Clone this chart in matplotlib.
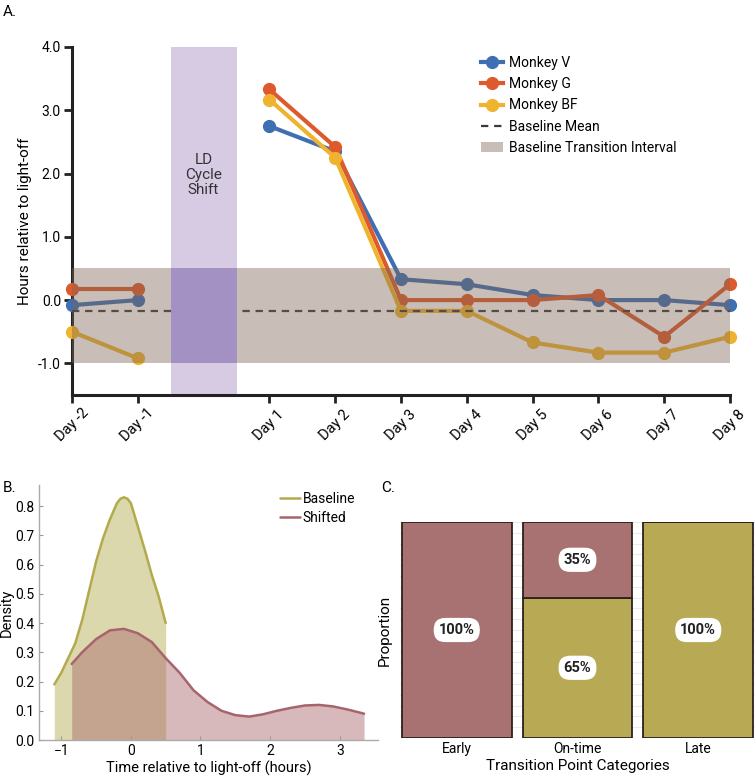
import matplotlib
matplotlib.use("Agg")
import matplotlib.pyplot as plt
import numpy as np

plt.rcParams['font.family'] = ['Roboto', 'DejaVu Sans']

# ---------------- Panel A data ----------------
day_labels = ["Day -2", "Day -1", "Day 1", "Day 2", "Day 3", "Day 4", "Day 5", "Day 6", "Day 7", "Day 8"]
day_pos = [0, 1, 3, 4, 5, 6, 7, 8, 9, 10]
pre_pos = [0, 1]
post_pos = [3, 4, 5, 6, 7, 8, 9, 10]

monkey_v_pre = [-0.08, 0.0]
monkey_v_post = [2.75, 2.35, 0.33, 0.25, 0.08, 0.0, 0.0, -0.08]
monkey_g_pre = [0.17, 0.17]
monkey_g_post = [3.33, 2.42, 0.0, 0.0, 0.0, 0.08, -0.58, 0.25]
monkey_bf_pre = [-0.5, -0.92]
monkey_bf_post = [3.17, 2.25, -0.17, -0.17, -0.67, -0.83, -0.83, -0.58]

baseline_mean = -0.17
interval_low, interval_high = -1.0, 0.5
shift_start, shift_end = 1.5, 2.5
ytick_vals = [-1.0, 0.0, 1.0, 2.0, 3.0, 4.0]

# ---------------- Panel B data ----------------
baseline_x = [-1.10, -1.0, -0.9, -0.8, -0.7, -0.6, -0.5, -0.4, -0.3, -0.2, -0.15, -0.1,
              -0.05, 0.0, 0.1, 0.2, 0.3, 0.4, 0.5]
baseline_y = [0.19, 0.23, 0.28, 0.33, 0.41, 0.51, 0.61, 0.69, 0.755, 0.81, 0.825, 0.83,
              0.825, 0.81, 0.73, 0.65, 0.565, 0.49, 0.40]
shifted_x = [-0.85, -0.7, -0.5, -0.3, -0.1, 0.1, 0.3, 0.5, 0.7, 0.9, 1.1, 1.3,
             1.5, 1.7, 1.9, 2.1, 2.3, 2.5, 2.7, 2.9, 3.1, 3.35]
shifted_y = [0.26, 0.30, 0.345, 0.375, 0.38, 0.365, 0.335, 0.28, 0.23, 0.17, 0.13, 0.10,
             0.085, 0.08, 0.088, 0.10, 0.11, 0.118, 0.12, 0.115, 0.105, 0.09]

# ---------------- Panel C data ----------------
categories = ["Early", "On-time", "Late"]
shifted_prop = [1.00, 0.35, 0.0]
baseline_prop = [0.0, 0.65, 1.00]

# colours
c_v = "#3f6fb3"
c_g = "#de5a2c"
c_bf = "#efb32f"
c_base = "#b3aa4c"
c_shift = "#a8646b"

fig = plt.figure(figsize=(7.55, 7.79), dpi=100)

# ================= Panel A =================
axA = fig.add_axes([72/755, 1-395/779, (730-72)/755, (395-47)/779])
for pre, post, col, lab in [(monkey_v_pre, monkey_v_post, c_v, "Monkey V"),
                            (monkey_g_pre, monkey_g_post, c_g, "Monkey G"),
                            (monkey_bf_pre, monkey_bf_post, c_bf, "Monkey BF")]:
    axA.plot(pre_pos, pre, '-o', color=col, lw=3.0, ms=8.5, clip_on=False, zorder=3)
    axA.plot(post_pos, post, '-o', color=col, lw=3.0, ms=8.5, clip_on=False, zorder=3, label=lab)

axA.axhline(baseline_mean, color="#3a3a3a", lw=1.6, ls=(0, (3.3, 2.6)), zorder=4, label="Baseline Mean")
axA.fill_between([day_pos[0], day_pos[-1]], interval_low, interval_high, color="#7d6555",
                 alpha=0.42, lw=0, zorder=5, label="Baseline Transition Interval")
axA.axvspan(shift_start, shift_end, color="#d7cbe4", lw=0, zorder=0)
axA.fill_between([shift_start, shift_end], interval_low, interval_high, color="#a291c2",
                 lw=0, zorder=6)
axA.text((shift_start + shift_end) / 2, 1.98, "LD\nCycle\nShift", ha='center', va='center',
         fontsize=11, color="#333333", linespacing=1.1, zorder=7)

axA.set_xlim(0, 10)
axA.set_ylim(-1.5, 4.0)
axA.set_xticks(day_pos)
axA.set_xticklabels(day_labels, rotation=45, ha='center', va='center',
                    rotation_mode='default', fontsize=10.5)
for lbl in axA.get_xticklabels():
    lbl.set_y(-0.055)
axA.set_yticks(ytick_vals)
axA.set_yticklabels([f"{v:.1f}" for v in ytick_vals], fontsize=10)
for s in ['top', 'right']:
    axA.spines[s].set_visible(False)
for s in ['left', 'bottom']:
    axA.spines[s].set_linewidth(2.2)
    axA.spines[s].set_color("#222222")
axA.tick_params(axis='both', length=6, width=2, color="#222222", pad=2)
axA.set_ylabel("Hours relative to light-off", fontsize=11, labelpad=4)

handles, labels = axA.get_legend_handles_labels()
legA = axA.legend(handles, labels, loc='upper left', bbox_to_anchor=(481/755, 1-56/779),
                  bbox_transform=fig.transFigure, frameon=False, fontsize=10,
                  borderpad=0, borderaxespad=0, handlelength=1.6, handletextpad=0.45,
                  labelspacing=0.52)

fig.text(3/755, 1-12/779, "A.", fontsize=11, va='center', ha='left')

# ================= Panel B =================
axB = fig.add_axes([39/755, 1-740/779, (378-39)/755, (740-485)/779])
axB.fill_between(baseline_x, 0, baseline_y, color=c_base, alpha=0.45, lw=0)
axB.plot(baseline_x, baseline_y, color=c_base, lw=1.8, label="Baseline",
         solid_joinstyle='round', solid_capstyle='round')
axB.fill_between(shifted_x, 0, shifted_y, color=c_shift, alpha=0.45, lw=0)
axB.plot(shifted_x, shifted_y, color=c_shift, lw=1.8, label="Shifted",
         solid_joinstyle='round', solid_capstyle='round')
axB.set_xlim(-1.32, 3.55)
axB.set_ylim(0, 0.872)
axB.set_xticks([-1, 0, 1, 2, 3])
yb = [0.0, 0.1, 0.2, 0.3, 0.4, 0.5, 0.6, 0.7, 0.8]
axB.set_yticks(yb)
axB.set_yticklabels([f"{v:.1f}" for v in yb])
axB.tick_params(axis='both', direction='in', length=3, width=0.8, color="#999999",
                labelsize=10, pad=3)
for s in ['top', 'right']:
    axB.spines[s].set_visible(False)
for s in ['left', 'bottom']:
    axB.spines[s].set_color("#aaaaaa")
    axB.spines[s].set_linewidth(1.0)
axB.set_xlabel("Time relative to light-off (hours)", fontsize=10.5, labelpad=2)
axB.set_ylabel("Density", fontsize=10.5, labelpad=1)
axB.legend(loc='upper right', bbox_to_anchor=(355/755, 1-492/779), bbox_transform=fig.transFigure,
           frameon=False, fontsize=10, handlelength=1.4, handletextpad=0.2,
           borderpad=0, borderaxespad=0, labelspacing=0.35)
fig.text(3/755, 1-488/779, "B.", fontsize=11, va='center', ha='left')

# ================= Panel C =================
axC = fig.add_axes([400/755, 1-738/779, (755-400)/755, (738-522)/779])
xc = np.arange(len(categories))
c_bar_shift = "#a97272"
c_bar_base = "#b8a955"
axC.bar(xc, baseline_prop, width=0.91, color=c_bar_base, edgecolor="#2b211c", lw=1.3, zorder=2)
axC.bar(xc, shifted_prop, width=0.91, bottom=baseline_prop, color=c_bar_shift,
        edgecolor="#2b211c", lw=1.3, zorder=2)
for i in range(len(categories)):
    for bot, val in [(0, baseline_prop[i]), (baseline_prop[i], shifted_prop[i])]:
        if val > 0:
            axC.text(xc[i], bot + val / 2, f"{val*100:.0f}%", ha='center', va='center',
                     fontsize=10.5, fontweight='bold', color="#222222", zorder=4,
                     bbox=dict(boxstyle="round,pad=0.35,rounding_size=0.8", fc="white", ec="none"))
axC.set_xlim(-0.47, 2.47)
axC.set_ylim(0, 1)
axC.set_yticks(np.arange(0, 1.0001, 0.05))
axC.yaxis.grid(True, color="#ececec", lw=0.8, zorder=0)
axC.set_axisbelow(True)
axC.tick_params(axis='y', length=0, labelleft=False)
axC.tick_params(axis='x', length=0, labelsize=10, pad=3)
axC.set_xticks(xc)
axC.set_xticklabels(categories)
for s in axC.spines.values():
    s.set_visible(False)
axC.set_xlabel("Transition Point Categories", fontsize=11, labelpad=2)
axC.set_ylabel("Proportion", fontsize=11, labelpad=6)
fig.text(381/755, 1-488/779, "C.", fontsize=11, va='center', ha='left')

fig.savefig("out.png", dpi=100)
